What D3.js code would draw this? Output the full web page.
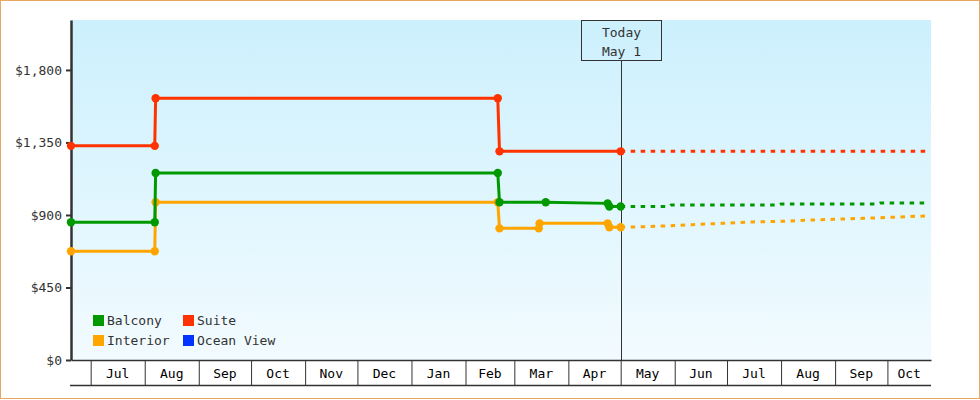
<!DOCTYPE html>
<html>
<head>
<meta charset="utf-8">
<script src="https://cdn.jsdelivr.net/npm/d3@7"></script>
<style>
  body { margin: 0; background: #fff; }
  svg text { font-family: "DejaVu Sans Mono", monospace; font-size: 13px; }
</style>
</head>
<body>
<script>
// price history (solid) and forecast (dotted)
const balconyHist = [["2022-06-19T17:00",855],["2022-08-06T18:00",855],["2022-08-07T06:00",1161],["2023-02-19T12:00",1161],
  ["2023-02-20T12:00",979],["2023-03-19",979],["2023-04-23T12:00",972],["2023-04-24T12:00",953],["2023-05-01",953]];
const suiteHist = [["2022-06-19T17:00",1329],["2022-08-06T18:00",1329],["2022-08-07T06:00",1624],["2023-02-19T12:00",1624],
  ["2023-02-20T12:00",1295],["2023-05-01",1295]];
const interiorHist = [["2022-06-19T17:00",675],["2022-08-06T18:00",675],["2022-08-07T06:00",979],["2023-02-19T12:00",979],
  ["2023-02-20T12:00",817],["2023-03-15",817],["2023-03-15T12:00",848],["2023-04-23T12:00",848],["2023-04-24T12:00",824],["2023-05-01",824]];

const balconyFcst = [["2023-05-01",953],["2023-05-29",953],["2023-05-30",962],["2023-07-31",962],["2023-08-01",968],
  ["2023-09-26",968],["2023-09-27",974],["2023-10-23",974]];
const suiteFcst = [["2023-05-01",1295],["2023-10-23",1295]];
const interiorFcst = [["2023-05-01",824],["2023-05-18",828],["2023-06-11",840],["2023-06-28",848],["2023-07-16",857],
  ["2023-08-02",861],["2023-08-14",867],["2023-08-31",873],["2023-09-17",879],["2023-10-04",886],["2023-10-23",894]];

const legendNames = ["Balcony", "Suite", "Interior", "Ocean View"];
const legendColors = ["#009900", "#ff3300", "#ffa500", "#0033ff"];
const yTicks = [0, 450, 900, 1350, 1800];
const todayDate = "2023-05-01";
const todayLabel = ["Today", "May 1"];

const width = 980, height = 400;
const plotL = 71, plotR = 931, plotT = 20, plotB = 360;
const parse = d3.isoParse;

const x = d3.scaleTime()
  .domain([parse("2022-06-19T17:00"), parse("2023-10-26")])
  .range([plotL, plotR]);
const y = d3.scaleLinear().domain([0, 2110]).range([plotB, plotT]);

const svg = d3.select("body").append("svg")
  .attr("width", width).attr("height", height);

// gradient background
const grad = svg.append("defs").append("linearGradient")
  .attr("id", "bg").attr("x1", 0).attr("y1", 0).attr("x2", 0).attr("y2", 1);
grad.append("stop").attr("offset", "0%").attr("stop-color", "#ccf0fd");
grad.append("stop").attr("offset", "100%").attr("stop-color", "#f2fbff");

svg.append("rect")
  .attr("x", 0.5).attr("y", 0.5).attr("width", width - 1).attr("height", height - 2)
  .attr("fill", "#fff").attr("stroke", "#e8a862");

svg.append("rect")
  .attr("x", plotL).attr("y", plotT).attr("width", plotR - plotL).attr("height", plotB - plotT)
  .attr("fill", "url(#bg)");

// x axis: month separators
const xAxis = svg.append("g")
  .attr("transform", `translate(0,${plotB})`)
  .call(d3.axisBottom(x).ticks(d3.timeMonth.every(1)).tickSize(25).tickSizeOuter(0).tickFormat(""));
xAxis.select(".domain").attr("stroke", "#333").attr("stroke-width", 1.5);
xAxis.selectAll(".tick line").attr("stroke", "#333");

svg.append("line")
  .attr("x1", plotL - 1).attr("x2", plotR).attr("y1", plotB + 25.5).attr("y2", plotB + 25.5)
  .attr("stroke", "#333").attr("stroke-width", 1.5);

const months = d3.timeMonth.range(d3.timeMonth.floor(x.domain()[0]), x.domain()[1]);
const span = d => [Math.max(x(d), plotL), Math.min(x(d3.timeMonth.offset(d, 1)), plotR)];
svg.append("g").selectAll("text")
  .data(months)
  .join("text")
    .attr("x", d => (span(d)[0] + span(d)[1]) / 2)
    .attr("y", plotB + 18)
    .attr("text-anchor", "middle")
    .attr("fill", "#000")
    .text(d => span(d)[1] - span(d)[0] > 30 ? d3.timeFormat("%b")(d) : "");

// y axis
const yAxis = svg.append("g")
  .attr("transform", `translate(${plotL},0)`)
  .call(d3.axisLeft(y).tickValues(yTicks).tickSize(5).tickSizeOuter(0).tickPadding(4).tickFormat(d3.format("$,")));
yAxis.select(".domain").attr("stroke", "#333").attr("stroke-width", 2.5);
yAxis.selectAll(".tick line").attr("stroke", "#333").attr("stroke-width", 2);
yAxis.selectAll(".tick text").attr("fill", "#333")
  .style("font-family", "DejaVu Sans Mono").style("font-size", "13px");

// today marker
const tx = Math.round(x(parse(todayDate))) + 0.5;
svg.append("line")
  .attr("x1", tx).attr("x2", tx).attr("y1", 60).attr("y2", plotB)
  .attr("stroke", "#333").attr("stroke-width", 1);
svg.append("rect")
  .attr("x", tx - 40).attr("y", plotT + 0.5).attr("width", 80).attr("height", 40)
  .attr("fill", "none").attr("stroke", "#333");
svg.append("g").selectAll("text")
  .data(todayLabel)
  .join("text")
    .attr("x", tx).attr("y", (d, i) => 37 + i * 19)
    .attr("text-anchor", "middle").attr("fill", "#333")
    .text(d => d);

// lines
const line = d3.line().x(d => x(parse(d[0]))).y(d => y(d[1]));
const series = [
  { hist: interiorHist, fcst: interiorFcst, color: legendColors[2] },
  { hist: balconyHist, fcst: balconyFcst, color: legendColors[0] },
  { hist: suiteHist, fcst: suiteFcst, color: legendColors[1] }
];

series.forEach(s => {
  svg.append("path").datum(s.fcst)
    .attr("d", line).attr("fill", "none")
    .attr("stroke", s.color).attr("stroke-width", 3)
    .attr("stroke-dasharray", "4.5,5.5");
  svg.append("path").datum(s.hist)
    .attr("d", line).attr("fill", "none")
    .attr("stroke", s.color).attr("stroke-width", 3);
  svg.append("g").selectAll("circle")
    .data(s.hist)
    .join("circle")
      .attr("cx", d => x(parse(d[0]))).attr("cy", d => y(d[1]))
      .attr("r", 4.2).attr("fill", s.color);
});

// legend
const lg = svg.append("g").selectAll("g")
  .data(legendNames)
  .join("g")
    .attr("transform", (d, i) => `translate(${93 + (i % 2) * 90},${315 + Math.floor(i / 2) * 20})`);
lg.append("rect").attr("width", 11).attr("height", 11).attr("fill", (d, i) => legendColors[i]);
lg.append("text").attr("x", 14).attr("y", 10).attr("fill", "#333").text(d => d);
</script>
</body>
</html>
